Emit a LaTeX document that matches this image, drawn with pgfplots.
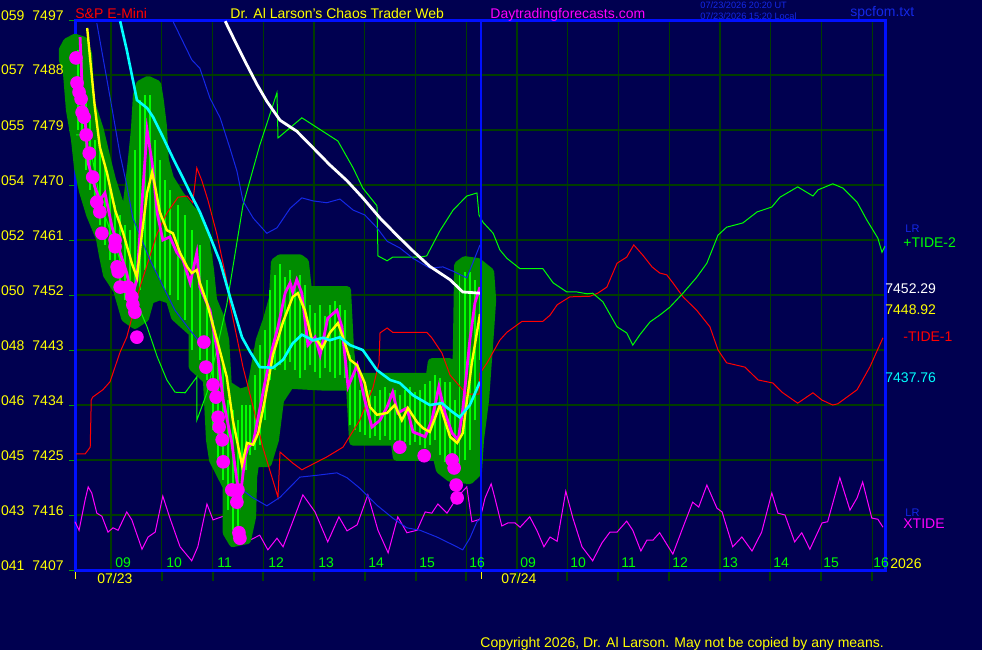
\documentclass[border=0pt]{standalone}
\usepackage{fontspec}
\setmainfont{Liberation Sans}
\usepackage{pgfplots}
\pgfplotsset{compat=1.18}
\usepackage{pgfplotstable}

\definecolor{navy}{RGB}{0,0,80}
\definecolor{gridgreen}{RGB}{0,60,0}
\definecolor{frameblue}{RGB}{0,16,255}
\definecolor{bandgreen}{RGB}{0,140,0}
\definecolor{bargreen}{RGB}{0,255,0}
\definecolor{tideblue}{RGB}{20,40,230}
\definecolor{mag}{RGB}{255,0,255}
\definecolor{yel}{RGB}{255,255,0}
\definecolor{cyn}{RGB}{0,255,255}
\definecolor{rd}{RGB}{255,0,0}
\definecolor{tickgreen}{RGB}{0,160,0}

\newcommand\lab{\fontsize{7}{8}\selectfont}
\newcommand\stamp{\fontsize{4.6}{5}\selectfont}

% price bars, day 1 (hour, low, high)
\pgfplotstableread{
h lo hi
8.35 7479.0 7492.1
8.43 7477.4 7490.5
8.51 7472.5 7483.9
8.59 7469.2 7480.6
8.68 7465.9 7477.4
8.78 7463.5 7475.7
8.88 7460.2 7473.3
8.98 7457.7 7470.0
9.08 7455.3 7466.7
9.18 7452.8 7465.1
9.28 7451.2 7463.5
9.37 7450.4 7462.6
9.47 7451.2 7475.7
9.57 7452.8 7483.9
9.67 7456.1 7484.7
9.77 7457.7 7484.7
9.87 7456.1 7477.4
9.96 7454.5 7474.1
10.06 7452.8 7470.8
10.16 7452.0 7469.2
10.32 7451.2 7466.7
10.46 7447.9 7465.1
10.59 7443.0 7462.6
10.75 7441.4 7460.2
10.89 7438.1 7454.5
11.01 7429.9 7447.9
11.11 7425.0 7443.8
11.21 7421.7 7440.5
11.30 7416.8 7434.8
11.40 7413.5 7433.2
11.50 7412.7 7431.5
11.58 7418.5 7434.0
11.66 7423.4 7434.0
11.74 7425.8 7434.0
11.84 7426.6 7438.9
11.93 7427.5 7443.8
12.03 7431.5 7446.3
12.13 7438.1 7452.8
12.23 7439.7 7455.3
12.33 7440.5 7457.0
12.43 7439.7 7455.0
12.53 7441.0 7456.1
12.62 7439.7 7454.0
12.72 7438.5 7455.3
12.82 7439.7 7453.6
12.92 7440.5 7450.4
13.02 7439.4 7449.0
13.12 7438.5 7450.4
13.22 7440.0 7448.5
13.31 7439.4 7450.4
13.41 7438.5 7451.0
13.51 7438.9 7450.4
13.61 7438.4 7449.5
13.71 7430.7 7442.2
13.81 7429.9 7440.5
13.90 7429.6 7436.5
14.00 7429.1 7437.5
14.10 7428.6 7436.5
14.20 7429.0 7435.5
14.30 7428.3 7436.5
14.40 7429.0 7437.0
14.50 7428.3 7436.0
14.59 7428.3 7436.5
14.69 7427.5 7435.6
14.79 7428.0 7436.5
14.89 7427.5 7437.0
14.99 7428.0 7436.1
15.09 7427.5 7436.5
15.19 7427.0 7437.5
15.28 7427.5 7438.0
15.38 7428.3 7438.9
15.48 7425.8 7438.4
15.58 7424.7 7437.8
15.68 7424.2 7437.8
15.78 7423.4 7434.8
15.87 7423.4 7455.3
15.97 7425.0 7455.8
16.07 7426.6 7455.8
16.17 7431.5 7454.5
16.27 7441.4 7452.8
}\bars

\begin{document}
\begin{tikzpicture}
\begin{scope}[x=0.5pt,y=-0.5pt,yshift=325pt]
\fill[navy] (0,0) rectangle (982,650);
\end{scope}

\begin{axis}[
  at={(37.5pt,40pt)}, anchor=south west,
  width=405pt, height=275pt, scale only axis,
  xmin=8.29, xmax=24.25, ymin=7407, ymax=7497,
  clip=false,
  axis line style={frameblue, line width=1.5pt},
  xtick={9,...,24}, ytick={7407,7416,...,7497},
  xticklabels={}, yticklabels={},
  grid=major, major grid style={gridgreen, line width=0.6pt},
  xtick style={draw=none},
  ytick style={tickgreen, line width=0.5pt},
  tick align=outside, major tick length=3pt, ytick pos=left,
]

% XTIDE
\addplot[mag, line width=0.5pt] coordinates {
(8.29,7414.9)(8.37,7413.5)(8.49,7418.5)(8.55,7420.6)(8.62,7419.6)(8.72,7416.3)(8.82,7415.8)(8.94,7413.2)(9.04,7413.9)(9.14,7413.5)(9.31,7416.5)(9.41,7415.2)(9.61,7410.4)(9.73,7412.4)(9.87,7413.2)(10.02,7419.1)(10.16,7415.5)(10.36,7410.8)(10.59,7408.5)(10.71,7410.8)(10.89,7417.8)(11.01,7415.2)(11.28,7416.0)(11.54,7412.4)(11.74,7411.9)(11.93,7412.7)(12.09,7410.3)(12.27,7412.2)(12.39,7410.8)(12.57,7414.7)(12.78,7419.3)(13.02,7416.5)(13.27,7411.6)(13.49,7415.7)(13.65,7413.4)(13.85,7414.4)(14.06,7419.3)(14.26,7413.5)(14.46,7409.8)(14.65,7415.7)(14.83,7413.1)(15.03,7413.5)(15.19,7416.5)(15.32,7416.3)(15.44,7417.8)(15.62,7416.3)(15.82,7418.9)(16.01,7420.6)(16.11,7414.9)(16.27,7415.3)(16.37,7418.8)(16.49,7421.1)(16.56,7418.9)(16.70,7414.2)(16.82,7414.7)(16.96,7414.7)(17.06,7414.0)(17.25,7415.7)(17.39,7413.5)(17.53,7410.8)(17.65,7412.4)(17.79,7411.7)(17.88,7416.0)(17.96,7419.9)(18.10,7415.5)(18.28,7410.8)(18.49,7408.5)(18.67,7411.4)(18.83,7413.2)(18.97,7413.2)(19.16,7415.0)(19.28,7413.5)(19.44,7410.1)(19.56,7411.9)(19.68,7411.9)(19.81,7413.1)(20.07,7409.6)(20.27,7414.0)(20.46,7418.1)(20.58,7417.3)(20.74,7420.9)(20.94,7417.1)(21.04,7416.5)(21.25,7410.8)(21.43,7412.4)(21.63,7410.1)(21.82,7413.2)(22.02,7419.6)(22.14,7416.3)(22.28,7416.0)(22.47,7411.6)(22.61,7413.1)(22.77,7410.4)(23.01,7414.7)(23.12,7414.9)(23.36,7422.1)(23.56,7416.8)(23.70,7418.8)(23.81,7421.4)(23.99,7415.5)(24.11,7415.3)(24.21,7414.0)
};

% price band
\addplot[fill=bandgreen, draw=bandgreen, line width=4pt, line join=round] coordinates {
(8.05,7492.1)(8.13,7493.4)(8.29,7494.1)(8.47,7493.6)(8.55,7491.3)(8.59,7483.9)(8.78,7479.0)(8.92,7474.1)(9.02,7470.8)(9.18,7466.7)(9.31,7466.7)(9.41,7474.1)(9.47,7479.0)(9.51,7484.7)(9.57,7486.5)(9.73,7487.2)(9.91,7486.5)(9.96,7483.9)(10.02,7479.8)(10.06,7474.1)(10.16,7471.1)(10.36,7468.4)(10.56,7466.2)(10.69,7465.1)(10.85,7461.8)(10.95,7456.1)(11.01,7451.2)(11.15,7448.4)(11.25,7444.6)(11.30,7437.3)(11.54,7436.0)(11.74,7436.5)(11.80,7438.6)(11.93,7444.6)(12.07,7447.9)(12.19,7451.5)(12.23,7457.4)(12.33,7458.0)(12.72,7458.0)(12.82,7457.4)(12.88,7452.8)(13.65,7452.8)(13.71,7443.0)(13.77,7438.6)(15.28,7438.6)(15.32,7441.0)(15.68,7441.0)(15.72,7436.0)(15.80,7436.0)(15.84,7456.9)(15.97,7457.7)(16.23,7457.4)(16.47,7455.8)(16.51,7451.2)(16.47,7446.3)(16.37,7434.8)(16.27,7428.3)(16.23,7423.0)
(16.07,7421.7)(15.68,7422.1)(15.48,7423.4)(15.42,7425.5)(14.63,7425.5)(14.59,7428.0)(13.77,7428.0)(13.71,7437.0)(13.22,7437.0)(12.53,7437.3)(12.33,7434.8)(12.23,7428.3)(12.09,7424.5)(11.84,7424.5)(11.80,7422.2)(11.78,7415.7)(11.68,7411.9)(11.40,7411.4)(11.28,7413.1)(11.28,7420.6)(11.01,7425.0)(10.95,7428.3)(10.89,7438.1)(10.61,7440.2)(10.61,7445.8)(10.26,7448.4)(10.16,7451.2)(9.96,7451.8)(9.77,7451.2)(9.67,7448.2)(9.47,7447.1)(9.28,7448.2)(9.12,7452.8)(8.92,7455.3)(8.84,7458.5)(8.78,7461.3)(8.59,7465.1)(8.45,7468.9)(8.35,7472.8)(8.29,7477.4)(8.19,7482.3)(8.13,7488.5)(8.05,7490.5)
} -- cycle;

% price bars
\addplot[bargreen, only marks, mark size=0pt,
  error bars/.cd, y dir=plus, y explicit, error mark=none,
  error bar style={bargreen, line width=0.8pt}]
  table[x=h, y=lo, y error expr=\thisrow{hi}-\thisrow{lo}] {\bars};

% -TIDE-1
\addplot[rd, line width=0.5pt] coordinates {
(8.31,7426.0)(8.49,7426.0)(8.59,7427.1)(8.61,7434.8)(8.64,7435.3)(8.84,7436.5)(8.98,7437.8)(9.18,7442.7)(9.31,7445.1)(9.57,7453.3)(9.91,7462.1)(10.10,7465.4)(10.32,7468.0)(10.50,7468.2)(10.61,7467.1)(10.69,7472.8)(10.79,7470.7)(10.91,7467.5)(11.09,7461.8)(11.28,7454.3)(11.34,7450.7)(11.60,7440.2)(11.80,7433.7)(11.99,7427.1)(12.17,7422.2)(12.29,7418.9)(12.33,7426.3)(12.58,7424.5)(12.76,7423.4)(13.25,7425.5)(13.57,7427.1)(13.90,7431.5)(14.16,7436.8)(14.28,7440.9)(14.30,7445.8)(14.44,7446.6)(14.55,7445.9)(15.22,7445.9)(15.32,7445.0)(15.52,7442.5)(15.68,7438.9)(15.93,7436.5)(16.03,7435.8)(16.25,7435.8)(16.27,7439.2)(16.41,7440.9)(16.66,7444.6)(16.80,7445.9)(17.10,7447.7)(17.51,7447.7)(17.65,7448.7)(17.79,7450.4)(18.04,7451.7)(18.44,7451.8)(18.59,7452.3)(18.77,7453.3)(18.97,7457.2)(19.16,7458.2)(19.30,7460.2)(19.48,7458.5)(19.66,7456.6)(19.81,7455.6)(19.95,7455.3)(20.07,7454.0)(20.27,7451.7)(20.54,7449.5)(20.80,7446.8)(20.96,7443.0)(21.13,7440.9)(21.49,7440.2)(21.75,7438.1)(22.04,7437.6)(22.22,7436.1)(22.53,7434.3)(22.83,7436.0)(23.01,7434.8)(23.22,7434.0)(23.32,7434.2)(23.70,7436.5)(23.95,7440.2)(24.21,7445.0)
};

% +TIDE-2
\addplot[bargreen, line width=0.5pt] coordinates {
(8.31,7478.2)(8.55,7478.2)(8.78,7467.5)(9.18,7457.7)(9.51,7450.7)(9.71,7446.8)(9.91,7441.9)(10.10,7438.1)(10.26,7436.1)(10.46,7436.0)(10.69,7438.6)(10.69,7431.5)(10.89,7436.0)(11.28,7450.4)(11.60,7466.7)(11.93,7476.5)(12.27,7485.1)(12.29,7477.7)(12.76,7481.0)(13.47,7477.2)(13.77,7472.8)(13.96,7469.5)(14.24,7466.6)(14.26,7458.4)(14.44,7457.6)(14.55,7458.2)(15.09,7458.2)(15.22,7458.4)(15.48,7462.5)(15.74,7465.9)(16.01,7468.2)(16.21,7468.7)(16.25,7465.1)(16.33,7463.9)(16.53,7462.1)(16.66,7459.4)(16.80,7458.0)(17.06,7456.3)(17.51,7456.3)(17.71,7454.0)(17.98,7452.5)(18.18,7452.5)(18.38,7452.2)(18.49,7452.3)(18.69,7450.9)(18.97,7446.8)(19.16,7445.8)(19.28,7443.8)(19.42,7445.5)(19.62,7447.6)(19.81,7448.7)(20.01,7450.0)(20.27,7452.3)(20.54,7454.9)(20.74,7457.2)(20.96,7461.8)(21.13,7463.1)(21.45,7463.8)(21.73,7465.6)(22.02,7466.4)(22.18,7468.0)(22.53,7469.7)(22.83,7468.2)(22.93,7469.2)(23.22,7470.2)(23.42,7469.5)(23.70,7467.2)(23.89,7464.3)(24.11,7461.3)(24.19,7459.0)(24.25,7460.0)
};

% blue averages
\addplot[tideblue, line width=0.5pt] coordinates {
(8.72,7496.5)(8.98,7484.4)(9.18,7474.9)(9.31,7470.0)(9.43,7464.6)(9.77,7457.7)(10.26,7449.5)(10.59,7445.9)(10.75,7444.3)
};
\addplot[tideblue, line width=0.5pt] coordinates {
(10.22,7496.8)(10.59,7490.5)(10.75,7489.1)(10.95,7484.2)(11.15,7481.0)(11.34,7476.1)(11.48,7472.3)(11.60,7467.4)(11.80,7464.6)(12.07,7462.1)(12.27,7463.0)(12.53,7466.2)(12.76,7467.9)(12.98,7467.4)(13.25,7467.1)(13.51,7467.7)(13.77,7465.9)(14.00,7465.1)(14.24,7463.0)(14.44,7460.8)(14.69,7459.7)(14.95,7458.0)(15.28,7456.4)(15.54,7456.6)(15.74,7455.9)(16.01,7454.8)(16.27,7460.2)
};
% LR
\addplot[tideblue, line width=0.5pt] coordinates {
(11.54,7420.4)(11.78,7418.9)(12.07,7417.5)(12.33,7418.9)(12.72,7422.2)(13.06,7422.5)(13.45,7422.9)(13.65,7422.1)(13.90,7420.4)(14.24,7417.6)(14.55,7415.5)(14.83,7413.9)(15.09,7413.5)(15.42,7412.4)(15.74,7411.1)(15.93,7410.3)(16.07,7412.2)(16.21,7414.9)(16.27,7415.3)
};

% close
\addplot[mag, line width=1.4pt] coordinates {
(8.39,7494.2)(8.43,7486.0)(8.51,7478.5)(8.55,7473.6)(8.68,7469.7)(8.78,7467.5)(8.88,7468.7)(9.02,7463.1)(9.18,7458.9)(9.31,7455.6)(9.41,7451.7)(9.51,7454.5)(9.61,7467.1)(9.71,7479.0)(9.81,7473.6)(9.91,7465.4)(10.02,7461.0)(10.16,7461.5)(10.30,7458.9)(10.42,7457.7)(10.56,7454.0)(10.69,7458.9)(10.75,7453.3)(10.95,7449.5)(11.09,7443.0)(11.21,7434.8)(11.38,7427.8)(11.48,7421.7)(11.54,7418.5)(11.64,7425.5)(11.70,7427.1)(11.80,7427.8)(11.90,7432.0)(12.03,7437.6)(12.17,7443.0)(12.29,7446.8)(12.43,7452.3)(12.53,7454.0)(12.58,7452.5)(12.66,7454.5)(12.76,7452.3)(12.88,7443.8)(13.02,7445.1)(13.12,7442.2)(13.27,7448.2)(13.45,7449.5)(13.55,7446.8)(13.67,7437.0)(13.85,7440.5)(14.00,7434.8)(14.14,7430.4)(14.30,7431.5)(14.44,7433.7)(14.55,7436.1)(14.65,7432.7)(14.83,7433.5)(14.95,7429.6)(15.19,7428.8)(15.32,7431.5)(15.46,7437.0)(15.58,7432.7)(15.72,7429.4)(15.84,7428.3)(15.93,7433.2)(16.07,7444.6)(16.17,7450.7)(16.27,7453.3)
};
\addplot[mag, only marks, mark=*, mark size=3.2pt] coordinates {
(8.31,7490.8)(8.33,7486.7)(8.37,7485.2)(8.41,7484.1)(8.43,7481.9)(8.47,7481.1)(8.51,7478.2)(8.57,7475.2)(8.64,7471.3)(8.72,7467.2)(8.78,7465.6)(8.82,7462.1)(9.08,7461.0)(9.08,7459.9)(9.12,7456.6)(9.14,7455.8)(9.18,7453.3)(9.33,7453.3)(9.41,7451.7)(9.43,7450.4)(9.47,7449.2)(9.51,7445.1)(10.83,7444.3)(10.87,7440.2)(11.01,7437.3)(11.07,7435.3)(11.11,7432.0)(11.13,7430.4)(11.19,7428.3)(11.21,7424.7)(11.38,7420.1)(11.50,7420.1)(11.48,7418.1)(11.52,7413.1)(11.54,7412.2)(14.69,7427.1)(15.17,7425.7)(15.72,7425.0)(15.76,7423.7)(15.80,7420.9)(15.82,7418.8)
};

% yellow average
\addplot[yel, line width=1.2pt] coordinates {
(8.53,7495.7)(8.59,7490.5)(8.68,7482.8)(8.78,7476.2)(8.92,7472.0)(9.08,7465.9)(9.24,7462.1)(9.41,7457.2)(9.51,7454.9)(9.61,7462.1)(9.71,7468.7)(9.81,7472.1)(9.87,7469.7)(9.96,7465.6)(10.10,7462.6)(10.22,7462.1)(10.36,7458.9)(10.50,7456.6)(10.59,7455.6)(10.69,7456.1)(10.75,7454.0)(10.89,7450.7)(11.09,7444.6)(11.28,7438.6)(11.40,7431.5)(11.58,7424.2)(11.68,7427.8)(11.80,7427.5)(11.90,7429.4)(12.03,7434.8)(12.19,7442.2)(12.39,7447.6)(12.58,7451.7)(12.68,7452.3)(12.82,7449.5)(12.96,7444.6)(13.06,7444.6)(13.16,7443.3)(13.31,7445.8)(13.47,7447.4)(13.57,7445.1)(13.71,7441.4)(13.85,7440.5)(14.00,7437.6)(14.10,7433.7)(14.24,7432.4)(14.44,7432.7)(14.59,7434.0)(14.73,7431.5)(14.85,7433.5)(15.03,7431.2)(15.15,7430.2)(15.28,7429.6)(15.48,7434.0)(15.68,7428.8)(15.82,7427.8)(15.93,7429.4)(16.11,7440.9)(16.27,7448.9)
};

% cyan average
\addplot[cyn, line width=1.3pt] coordinates {
(9.18,7496.8)(9.31,7492.1)(9.43,7487.2)(9.51,7483.9)(9.71,7482.6)(9.83,7481.1)(10.02,7477.9)(10.22,7474.4)(10.42,7471.1)(10.59,7468.2)(10.75,7465.6)(10.95,7461.6)(11.15,7457.4)(11.34,7451.8)(11.58,7445.1)(11.74,7442.7)(11.93,7440.2)(12.19,7440.1)(12.39,7441.4)(12.58,7444.1)(12.76,7445.5)(12.98,7444.6)(13.18,7445.0)(13.31,7444.6)(13.51,7445.1)(13.71,7443.8)(13.96,7443.0)(14.24,7439.7)(14.50,7438.1)(14.69,7437.6)(14.95,7435.6)(15.28,7434.0)(15.52,7434.3)(15.72,7432.9)(15.87,7432.0)(16.07,7434.0)(16.27,7437.8)
};

% white average
\addplot[white, line width=1.4pt] coordinates {
(11.25,7496.8)(11.48,7492.9)(11.68,7489.6)(11.88,7486.4)(12.07,7483.7)(12.33,7480.6)(12.66,7478.8)(12.98,7476.1)(13.31,7473.3)(13.65,7470.7)(13.96,7467.9)(14.30,7464.6)(14.63,7461.8)(14.95,7459.2)(15.28,7456.7)(15.68,7454.5)(15.93,7452.5)(16.27,7452.3)
};

\draw[frameblue, line width=1pt] (axis cs:16.29,7407) -- (axis cs:16.29,7497);
\end{axis}

\begin{scope}[x=0.5pt,y=-0.5pt,yshift=325pt, every node/.style={inner sep=0pt}]
% header
\node[anchor=base east, text=yel] at (64,20) {\lab 059\hspace{4pt}7497};
\node[anchor=base west, text=rd] at (75,18) {\lab S\&P E-Mini};
\node[anchor=base west, text=yel] at (230,18) {\lab Dr. Al Larson's Chaos Trader Web};
\node[anchor=base west, text=mag] at (490,18) {\lab Daytradingforecasts.com};
\node[anchor=base west, text=tideblue] at (700,8.5) {\stamp 07/23/2026 20:20 UT};
\node[anchor=base west, text=tideblue] at (700,19) {\stamp 07/23/2026 15:20 Local};
\node[anchor=base west, text=tideblue] at (850,17) {\lab spcfom.txt};
% left scale
\foreach \y/\t in {75/057\hspace{4pt}7488,130/055\hspace{4pt}7479,185/054\hspace{4pt}7470,240/052\hspace{4pt}7461,295/050\hspace{4pt}7452,350/048\hspace{4pt}7443,405/046\hspace{4pt}7434,460/045\hspace{4pt}7425,515/043\hspace{4pt}7416,570/041\hspace{4pt}7407}
  \node[anchor=base east, text=yel] at (64,\y) {\lab\t};
% hours
\foreach \x/\t in {115/09,166/10,217/11,268/12,318/13,368/14,419/15,469/16,520/09,570/10,621/11,672/12,722/13,773/14,823/15,873/16}
  \node[anchor=base west, text=bargreen] at (\x,567) {\lab\t};
\foreach \x in {111,162,213,263,314,365,416,466,517,567,618,669,720,770,821,872}
  \draw[gridgreen, line width=0.6pt] (\x,572) -- (\x,581);
\draw[yel, line width=0.5pt] (75,572) -- (75,579) (481,572) -- (481,579);
\node[anchor=base west, text=yel] at (97,583) {\lab 07/23};
\node[anchor=base west, text=yel] at (501,583) {\lab 07/24};
\node[anchor=base west, text=yel] at (890,568) {\lab 2026};
% right labels
\node[anchor=base west, text=tideblue] at (905,232) {\fontsize{5.5}{6}\selectfont LR};
\node[anchor=base west, text=bargreen] at (903,247) {\lab +TIDE-2};
\node[anchor=base west, text=white] at (885,293) {\lab 7452.29};
\node[anchor=base west, text=yel] at (885,314) {\lab 7448.92};
\node[anchor=base west, text=rd] at (903,341) {\lab -TIDE-1};
\node[anchor=base west, text=cyn] at (885,382) {\lab 7437.76};
\node[anchor=base west, text=tideblue] at (905,516) {\fontsize{5.5}{6}\selectfont LR};
\node[anchor=base west, text=mag] at (903,528) {\lab XTIDE};
\node[anchor=base west, text=yel] at (480,647) {\lab Copyright 2026, Dr. Al Larson. May not be copied by any means.};
\end{scope}

\pgfresetboundingbox
\path[use as bounding box] (0,0) rectangle (491pt,325pt);
\end{tikzpicture}
\end{document}
